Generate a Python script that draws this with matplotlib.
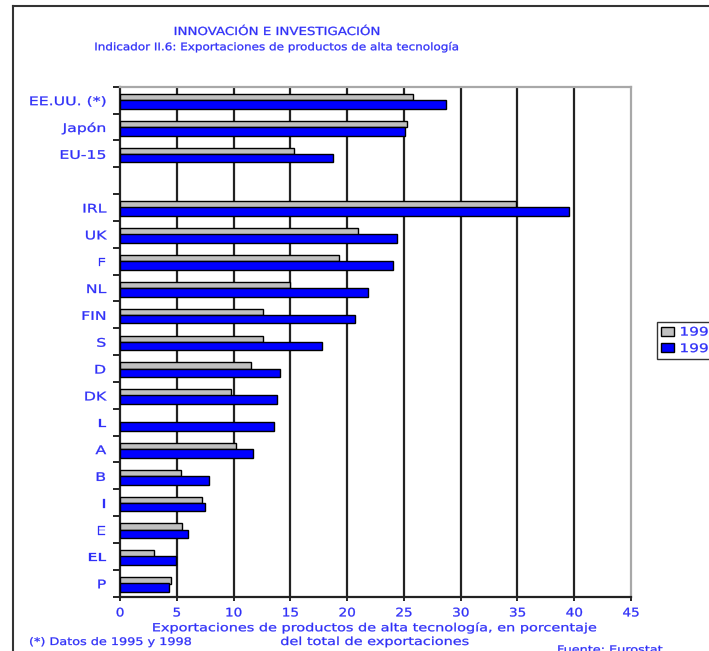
import matplotlib.pyplot as plt
import numpy as np
from matplotlib.patheffects import AbstractPathEffect
from matplotlib.transforms import Affine2D

plt.rcParams['font.family'] = 'DejaVu Sans'

paises = ["EE.UU. (*)", "Japón", "EU-15", "", "IRL", "UK", "F", "NL", "FIN",
          "S", "D", "DK", "L", "A", "B", "I", "E", "EL", "P"]
v1995 = [25.8, 25.3, 15.3, np.nan, 34.9, 21.0, 19.3, 15.0, 12.6,
         12.6, 11.5, 9.8, np.nan, 10.2, 5.4, 7.2, 5.5, 3.0, 4.5]
v1999 = [28.7, 25.1, 18.8, np.nan, 39.5, 24.4, 24.0, 21.8, 20.7,
         17.8, 14.1, 13.8, 13.6, 11.7, 7.8, 7.45, 5.95, 4.95, 4.3]
xticks = [0, 5, 10, 15, 20, 25, 30, 35, 40, 45]

azul_txt = '#3030f8'
W, H = 709, 651


class Ancho(AbstractPathEffect):
    """Ensancha el texto en horizontal alrededor de x0 (pixeles)."""

    def __init__(self, x0, sx, trazo=0.2):
        super().__init__()
        self.x0, self.sx, self.trazo = x0, sx, trazo

    def draw_path(self, renderer, gc, tpath, affine, rgbFace=None):
        t = affine + Affine2D().translate(-self.x0, 0).scale(self.sx, 1).translate(self.x0, 0)
        gc0 = renderer.new_gc()
        gc0.copy_properties(gc)
        gc0.set_linewidth(self.trazo)
        if rgbFace is not None:
            gc0.set_foreground(rgbFace)
        renderer.draw_path(gc0, tpath, t, rgbFace)
        gc0.restore()


def estirar(texto, sx):
    bb = texto.get_window_extent()
    ha = texto.get_horizontalalignment()
    if ha == 'right':
        x0 = bb.x1
    elif ha == 'center':
        x0 = (bb.x0 + bb.x1) / 2
    else:
        x0 = bb.x0
    texto.set_path_effects([Ancho(x0, sx)])


fig = plt.figure(figsize=(W / 100, H / 100), dpi=100)
ax = fig.add_axes([120 / W, 1 - 596.7 / H, 511 / W, 510 / H])

y = np.arange(len(paises))
ax.barh(y - 0.11, v1995, height=0.24, color='#c0c0c0', edgecolor='black',
        linewidth=1.0, label='1995', zorder=3)
ax.barh(y + 0.16, v1999, height=0.32, color='#0000ff', edgecolor='black',
        linewidth=1.0, label='1999', zorder=3)

ax.set_xlim(0, 45)
ax.set_ylim(len(paises) - 0.5, -0.5)

# rejilla vertical
for xv in xticks[1:-1]:
    ax.axvline(xv, color='#222222', lw=1.6, zorder=1)

ax.set_xticks(xticks)
ax.set_xticklabels([str(t) for t in xticks], color=azul_txt, fontsize=8.5)
ax.tick_params(axis='x', direction='out', length=3, width=1.2, pad=4)

ax.set_yticks(y)
ax.set_yticklabels(paises, color=azul_txt, fontsize=8.5)
ax.set_yticks(np.arange(len(paises) + 1) - 0.5, minor=True)
ax.tick_params(axis='y', which='major', length=0, pad=10)
ax.tick_params(axis='y', which='minor', direction='out', length=5, width=1.2)

for lado in ['left', 'bottom']:
    ax.spines[lado].set_color('#222222')
    ax.spines[lado].set_linewidth(1.6)
for lado in ['top', 'right']:
    ax.spines[lado].set_color('#a8a8a8')
    ax.spines[lado].set_linewidth(1.6)

# titulos
t1 = fig.text(277 / W, 1 - 32 / H, "INNOVACIÓN E INVESTIGACIÓN", ha='center',
              va='center', color=azul_txt, fontsize=8)
t2 = fig.text(277 / W, 1 - 47 / H,
              "Indicador II.6: Exportaciones de productos de alta tecnología",
              ha='center', va='center', color=azul_txt, fontsize=7.5)

# etiqueta del eje x en dos lineas
t3 = fig.text(375 / W, 1 - 628 / H,
              "Exportaciones de productos de alta tecnología, en porcentaje",
              ha='center', va='center', color=azul_txt, fontsize=8)
t4 = fig.text(375 / W, 1 - 642 / H, "del total de exportaciones",
              ha='center', va='center', color=azul_txt, fontsize=8)

t5 = fig.text(29 / W, 1 - 642 / H, "(*) Datos de 1995 y 1998", ha='left',
              va='center', color=azul_txt, fontsize=7.5)
t6 = fig.text(557 / W, 1 - 650 / H, "Fuente: Eurostat", ha='left',
              va='center', color=azul_txt, fontsize=7.5)

# marco exterior
fig.add_artist(plt.Line2D([12.5 / W, 12.5 / W], [0, 1 - 6 / H],
                          color='#333333', lw=1.5, transform=fig.transFigure))
fig.add_artist(plt.Line2D([12.5 / W, 1], [1 - 6 / H, 1 - 6 / H],
                          color='#333333', lw=1.5, transform=fig.transFigure))

leg = fig.legend(loc='upper left', bbox_to_anchor=(657 / W, 1 - 322 / H),
                 fontsize=8.5, frameon=True, fancybox=False, handlelength=1.1,
                 handleheight=0.8, handletextpad=0.5, borderpad=0.3,
                 labelspacing=0.3, borderaxespad=0)
leg.get_frame().set_edgecolor('black')
leg.get_frame().set_linewidth(1.0)
for t in leg.get_texts():
    t.set_color(azul_txt)

# ancho de los textos
fig.canvas.draw()
estirar(t1, 1.2)
estirar(t2, 1.15)
estirar(t3, 1.3)
estirar(t4, 1.3)
estirar(t5, 1.23)
estirar(t6, 1.23)
for t in ax.get_yticklabels():
    estirar(t, 1.33)
for t in ax.get_xticklabels():
    estirar(t, 1.15)
for t in leg.get_texts():
    estirar(t, 1.3)

fig.savefig('out.png', dpi=100)
